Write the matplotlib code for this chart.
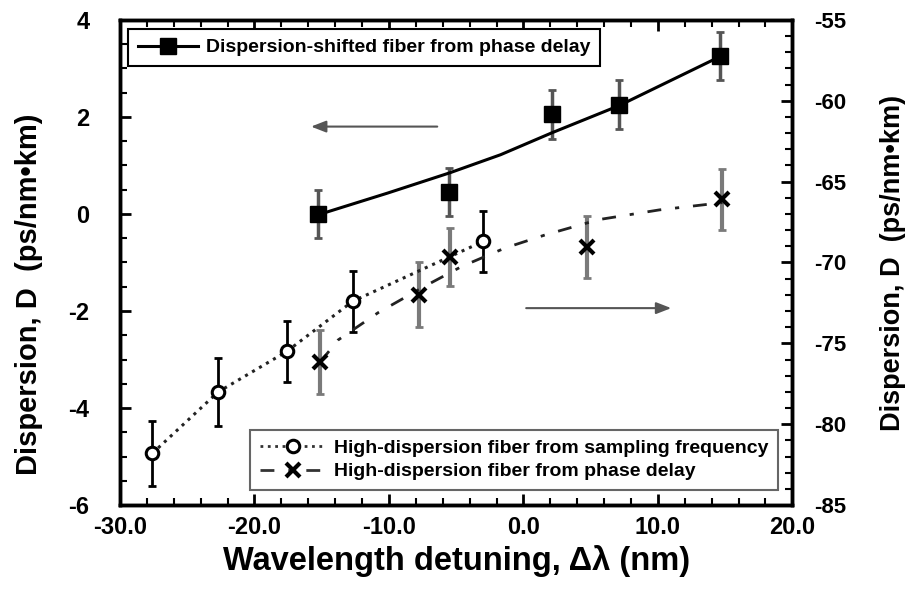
import matplotlib
matplotlib.use("Agg")
import matplotlib.pyplot as plt
from matplotlib import font_manager
from matplotlib.ticker import MultipleLocator, FormatStrFormatter

# ── Data ──

# dispersion-shifted fiber, phase delay (left axis, ps/nm/km)
shifted_x = [-15.3, -5.5, 2.1, 7.1, 14.6]
shifted_d = [0.0, 0.45, 2.05, 2.25, 3.25]
shifted_err = [0.5, 0.5, 0.5, 0.5, 0.5]
shifted_fit_x = [-15.3, -10.1, -5.45, -1.7, 2.1, 7.1, 14.6]
shifted_fit_d = [-0.02, 0.43, 0.85, 1.22, 1.67, 2.23, 3.24]

# high-dispersion fiber, sampling frequency (right axis)
sampling_x = [-27.6, -22.7, -17.6, -12.7, -3.0]
sampling_d = [-81.8, -78.0, -75.5, -72.4, -68.7]
sampling_err = [2.0, 2.1, 1.9, 1.9, 1.9]

# high-dispersion fiber, phase delay (right axis)
phase_x = [-15.1, -7.8, -5.45, 4.75, 14.8]
phase_d = [-76.15, -72.0, -69.65, -69.05, -66.1]
phase_err = [2.0, 2.0, 1.8, 1.9, 1.9]
phase_fit_x = [-15.1, -13.8, -10.8, -7.3, -4.6, -1.35, 1.6, 5.6, 10.1, 14.8]
phase_fit_d = [-76.15, -74.8, -73.1, -71.45, -70.25, -69.1, -68.3, -67.35, -66.75, -66.3]

# ── Fonts ──
names = {f.name for f in font_manager.fontManager.ttflist}
base = 'Liberation Sans' if 'Liberation Sans' in names else 'DejaVu Sans'
narrow = 'Liberation Sans Narrow' if 'Liberation Sans Narrow' in names else base
plt.rcParams['font.family'] = base
plt.rcParams['font.weight'] = 'bold'
plt.rcParams['axes.labelweight'] = 'bold'
plt.rcParams['axes.unicode_minus'] = False

fig = plt.figure(figsize=(9.16, 6.0), dpi=100)
ax = fig.add_axes([0.131, 0.158, 0.734, 0.809])
ax2 = ax.twinx()

# ── Dispersion-shifted fiber (left axis) ──
ax.errorbar(shifted_x, shifted_d, yerr=shifted_err, fmt='none', ecolor='#555555',
            elinewidth=2.5, capsize=3, capthick=2, zorder=3)
ax.plot(shifted_fit_x, shifted_fit_d, '-', color='black', lw=2.2, zorder=4)
ax.plot(shifted_x, shifted_d, 's', color='black', ms=11, zorder=5)
h1, = ax.plot([], [], '-s', color='black', lw=2.2, ms=11)

# ── High-dispersion fiber (right axis) ──
ax2.errorbar(sampling_x, sampling_d, yerr=sampling_err, fmt='none', ecolor='black',
             elinewidth=2, capsize=3, capthick=2, zorder=3)
ax2.plot(sampling_x, sampling_d, ':', color='#222222', lw=2.2, zorder=4)
ax2.plot(sampling_x, sampling_d, 'o', mfc='white', mec='black', mew=2.2, ms=9, zorder=5)

ax2.errorbar(phase_x, phase_d, yerr=phase_err, fmt='none', ecolor='#7a7a7a',
             elinewidth=3, capsize=3, capthick=2, zorder=3)
ax2.plot(phase_fit_x, phase_fit_d, '-.', color='#222222', lw=2, zorder=4,
         dashes=(5, 5, 1.5, 5))
ax2.plot(phase_x, phase_d, 'x', color='black', mew=3, ms=10, zorder=5)

h2, = ax2.plot([], [], ':o', color='#333333', mfc='white', mec='black', mew=2.2, ms=9, lw=2)
h3, = ax2.plot([], [], '-.x', color='#333333', mec='black', mew=3, ms=10, lw=2,
               dashes=(5, 5, 1.5, 5))

# ── Axes ──
ax.set_xlim(-30, 20)
ax.set_ylim(-6, 4)
ax2.set_ylim(-85, -55)
ax.xaxis.set_major_locator(MultipleLocator(10))
ax.xaxis.set_minor_locator(MultipleLocator(2))
ax.xaxis.set_major_formatter(FormatStrFormatter('%.1f'))
ax.yaxis.set_major_locator(MultipleLocator(2))
ax.yaxis.set_minor_locator(MultipleLocator(0.5))
ax2.yaxis.set_major_locator(MultipleLocator(5))
ax2.yaxis.set_minor_locator(MultipleLocator(1))

ax.tick_params(axis='x', which='both', direction='in', top=True, labelsize=17, pad=8)
ax.tick_params(axis='y', which='both', direction='in', right=False, labelsize=17, pad=22)
ax.tick_params(which='major', length=8, width=2)
ax.tick_params(which='minor', length=5, width=1.5)
ax2.tick_params(axis='y', which='both', direction='in', labelsize=16, pad=16)
ax2.tick_params(which='major', length=8, width=2)
ax2.tick_params(which='minor', length=5, width=1.5)
for lab in ax.get_xticklabels() + ax.get_yticklabels() + ax2.get_yticklabels():
    lab.set_fontweight('bold')
for sp in list(ax.spines.values()) + list(ax2.spines.values()):
    sp.set_linewidth(2.5)

ax.set_xlabel('Wavelength detuning, \u0394\u03bb (nm)', fontsize=23.5, labelpad=4)
ax.set_ylabel('Dispersion, D  (ps/nm\u2022km)', fontsize=21)
ax2.set_ylabel('Dispersion, D  (ps/nm\u2022km)', fontsize=19.5)
ax.yaxis.set_label_coords(-0.114, 0.435)
ax2.yaxis.set_label_coords(1.131, 0.50)

# ── Direction arrows ──
ax.annotate('', xy=(-16.0, 1.8), xytext=(-6.2, 1.8),
            arrowprops=dict(arrowstyle='-|>,head_length=0.9,head_width=0.35',
                            color='#555555', lw=1.5))
ax.annotate('', xy=(11.2, -1.94), xytext=(0.0, -1.94),
            arrowprops=dict(arrowstyle='-|>,head_length=0.9,head_width=0.35',
                            color='#555555', lw=1.5))

# ── Legends ──
leg_font = dict(family=narrow, weight='bold', size=14)
leg1 = ax.legend([h1], ['Dispersion-shifted fiber from phase delay'],
                 loc='upper left', bbox_to_anchor=(0.012, 0.981), borderaxespad=0,
                 frameon=True, fancybox=False, edgecolor='black', prop=leg_font,
                 handlelength=3.1, handletextpad=0.4, borderpad=0.5, framealpha=1)
leg1.get_frame().set_linewidth(1.5)
leg2 = ax2.legend([h2, h3], ['High-dispersion fiber from sampling frequency',
                             'High-dispersion fiber from phase delay'],
                  loc='lower right', bbox_to_anchor=(0.979, 0.031), borderaxespad=0,
                  frameon=True, fancybox=False, edgecolor='#666666', prop=leg_font,
                  handlelength=3.4, handletextpad=0.4, borderpad=0.5,
                  labelspacing=0.3, framealpha=1)
leg2.get_frame().set_linewidth(1.5)

fig.savefig('out.png', dpi=100)
